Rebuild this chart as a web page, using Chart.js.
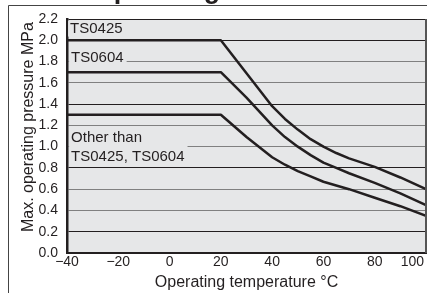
<!DOCTYPE html>
<html><head><meta charset="utf-8">
<script src="https://cdn.jsdelivr.net/npm/chart.js@4/dist/chart.umd.min.js"></script>
<style>html,body{margin:0;padding:0;background:#fff;overflow:hidden}#wrap{width:427px;height:293px;position:relative}</style>
</head><body><div id="wrap"><canvas id="c" width="427" height="293"></canvas></div>
<script>
// ---- data ----
const temperatures = [-40, 20, 30, 40, 45, 50, 55, 60, 65, 70, 80, 90, 100];
const ts0425 =     [2.0, 2.0, 1.69, 1.38, 1.26, 1.16, 1.07, 1.0, 0.94, 0.89, 0.81, 0.71, 0.6];
const ts0604 =     [1.7, 1.7, 1.46, 1.2, 1.09, 1.0, 0.92, 0.85, 0.8, 0.75, 0.66, 0.56, 0.45];
const otherTubes = [1.3, 1.3, 1.09, 0.9, 0.83, 0.77, 0.72, 0.67, 0.635, 0.6, 0.52, 0.44, 0.35];
const xTicks = [-40, -20, 0, 20, 40, 60, 80, 100];
const yTicks = [0, 0.2, 0.4, 0.6, 0.8, 1.0, 1.2, 1.4, 1.6, 1.8, 2.0, 2.2];
const seriesNames = [['TS0425'], ['TS0604'], ['Other than', 'TS0425, TS0604']];
const titleText = 'Operating Pressure';
const xTitle = 'Operating temperature \u00B0C';
const yTitle = 'Max. operating pressure MPa';

const INK = '#231f20';
const FONT = '"Liberation Sans", Arial, Helvetica, sans-serif';
Chart.defaults.font.family = FONT;
Chart.defaults.font.size = 14;
Chart.defaults.color = INK;

const toPts = (ys) => temperatures.map((t, i) => ({ x: t, y: ys[i] }));

// label anchors in data units (text left, line-centre)
const labelAnchors = [
  { x: -38.8, y: [2.11] },
  { x: -38.4, y: [1.83] },
  { x: -38.4, y: [1.085, 0.905] }
];

const decor = {
  id: 'decor',
  beforeDraw(chart) {
    const { ctx, chartArea: a } = chart;
    ctx.save();
    ctx.fillStyle = '#fff';
    ctx.fillRect(0, 0, chart.width, chart.height);
    ctx.fillStyle = '#e6e7e8';
    ctx.fillRect(a.left, a.top, a.right - a.left, a.bottom - a.top);
    ctx.strokeStyle = '#444';
    ctx.lineWidth = 1;
    ctx.beginPath();
    ctx.moveTo(8.5, chart.height);
    ctx.lineTo(8.5, 5.5);
    ctx.lineTo(chart.width, 5.5);
    ctx.stroke();
    ctx.fillStyle = INK;
    ctx.font = 'bold 27px ' + FONT;
    ctx.textAlign = 'center';
    ctx.textBaseline = 'alphabetic';
    ctx.fillText(titleText, 218, -2);
    ctx.restore();
  },
  beforeDatasetsDraw(chart) {
    const { ctx, scales: { x, y } } = chart;
    ctx.save();
    ctx.font = '15px ' + FONT;
    ctx.textAlign = 'left';
    ctx.textBaseline = 'middle';
    seriesNames.forEach((lines, i) => {
      const an = labelAnchors[i];
      const px = x.getPixelForValue(an.x);
      const pys = an.y.map(v => y.getPixelForValue(v));
      const w = Math.max(...lines.map(l => ctx.measureText(l).width));
      ctx.fillStyle = '#e6e7e8';
      ctx.fillRect(px - 2, pys[0] - 8, w + 5, pys[pys.length - 1] - pys[0] + 16);
      ctx.fillStyle = INK;
      lines.forEach((l, j) => ctx.fillText(l, px, pys[j]));
    });
    ctx.restore();
  },
  afterDraw(chart) {
    const { ctx, chartArea: a } = chart;
    ctx.save();
    ctx.strokeStyle = '#555';
    ctx.lineWidth = 2;
    ctx.beginPath();
    ctx.moveTo(a.right, a.top);
    ctx.lineTo(a.right, a.bottom);
    ctx.stroke();
    ctx.restore();
  }
};

const ds = (label, ys) => ({
  label, data: toPts(ys), borderColor: INK, borderWidth: 2.5,
  pointRadius: 0, tension: 0, fill: false, borderJoinStyle: 'round'
});

new Chart(document.getElementById('c'), {
  type: 'line',
  data: { datasets: [ds('TS0425', ts0425), ds('TS0604', ts0604), ds('Other than TS0425, TS0604', otherTubes)] },
  options: {
    responsive: false, animation: false,
    layout: { padding: { left: 0, right: 1, top: 19, bottom: 0 } },
    plugins: { legend: { display: false }, tooltip: { enabled: false } },
    scales: {
      x: {
        type: 'linear', min: -40, max: 100,
        afterBuildTicks: (s) => { s.ticks = xTicks.map(v => ({ value: v })); },
        afterFit: (s) => { s.height = 40; s.paddingLeft = 0; s.paddingRight = 0; },
        grid: { display: false, drawTicks: false },
        border: { display: true, color: INK, width: 2 },
        ticks: {
          padding: 1, maxRotation: 0, autoSkip: false, font: { size: 14 },
          callback: (v) => {
            const s = (v < 0 ? '\u2212' + Math.abs(v) : String(v));
            return v === 100 ? s + '       ' : s;
          }
        },
        title: { display: true, text: xTitle, font: { size: 16 }, padding: { top: 0, bottom: 1 } }
      },
      y: {
        min: 0, max: 2.2,
        afterBuildTicks: (s) => { s.ticks = yTicks.map(v => ({ value: v })); },
        afterFit: (s) => { s.width = 67; s.paddingTop = 0; s.paddingBottom = 0; },
        grid: {
          drawTicks: false, lineWidth: 1,
          color: (c) => {
            const v = Math.round((c.tick ? c.tick.value : 0) * 10);
            return (v === 22 || v % 6 === 2) ? INK : '#808080';
          }
        },
        border: { display: true, color: INK, width: 2.5 },
        ticks: { padding: 9, font: { size: 14 }, callback: (v) => Number(v).toFixed(1) },
        title: { display: true, text: '    ' + yTitle, font: { size: 16 }, padding: { top: 19, bottom: 0 } }
      }
    }
  },
  plugins: [decor]
});
</script>
</body></html>
